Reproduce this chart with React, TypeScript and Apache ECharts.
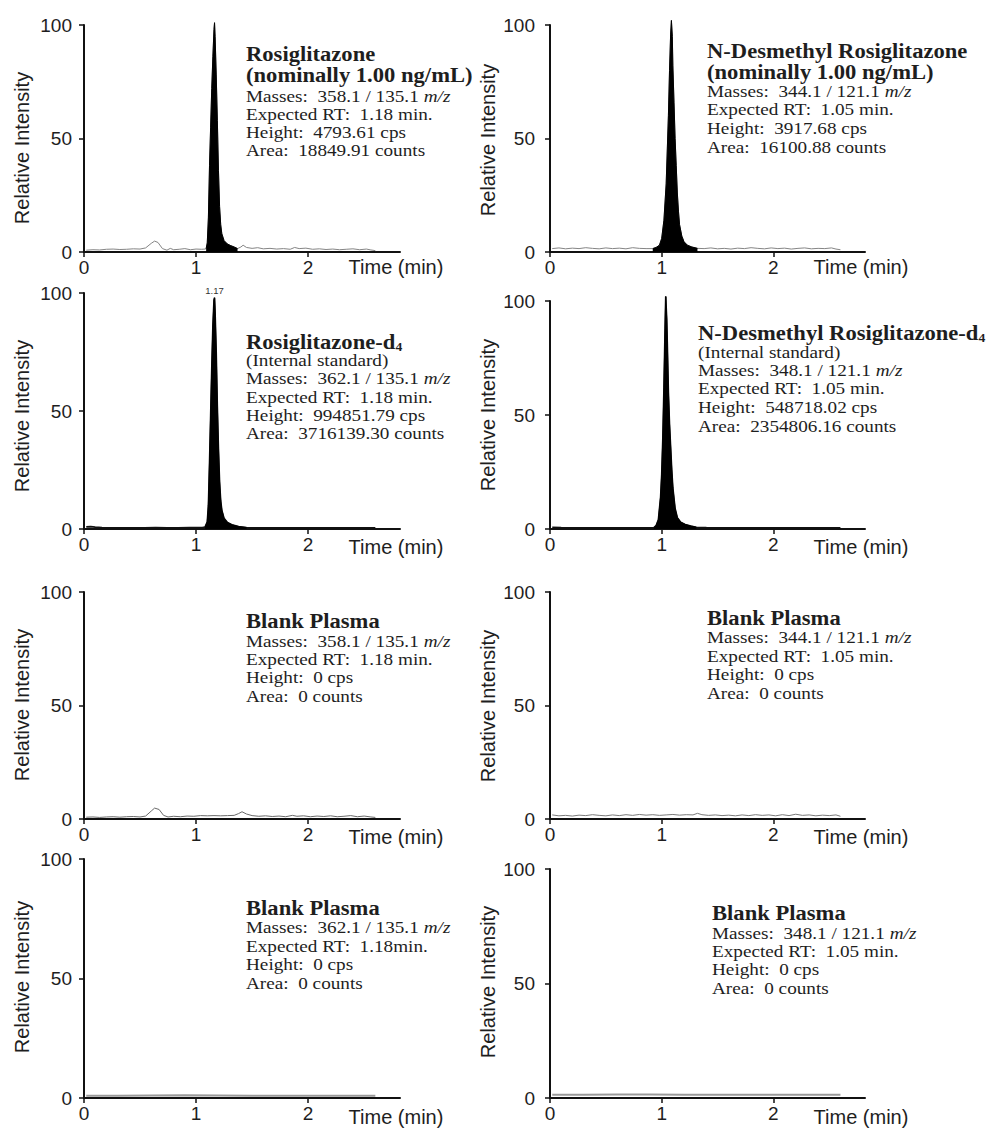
import React, { useEffect, useRef } from 'react';
import * as echarts from 'echarts';

type Pt = [number, number];

// ---------- DATA (time in min, relative intensity %) ----------
const rosiTrace: Pt[] = [
  [0.02, 0.8], [0.08, 1.0], [0.14, 0.9], [0.20, 1.2], [0.26, 1.3], [0.32, 1.1], [0.38, 1.2], [0.44, 1.4],
  [0.50, 1.3], [0.55, 1.8], [0.60, 3.8], [0.63, 4.8], [0.66, 4.2], [0.70, 1.5], [0.74, 0.8], [0.77, 1.6],
  [0.80, 1.0], [0.85, 1.2], [0.90, 1.5], [0.95, 1.0], [1.00, 1.3], [1.05, 1.2], [1.08, 1.3],
  [1.09, 1.5], [1.10, 4], [1.11, 15], [1.12, 38], [1.13, 55], [1.14, 72], [1.15, 86], [1.16, 98],
  [1.165, 101], [1.17, 95], [1.18, 78], [1.19, 58], [1.20, 36], [1.21, 20], [1.22, 12], [1.23, 8],
  [1.25, 5], [1.28, 3.5], [1.31, 2.8], [1.34, 2.2], [1.37, 1.5],
  [1.40, 2.2], [1.42, 3.0], [1.45, 2.0], [1.50, 1.6], [1.55, 1.9], [1.60, 1.4], [1.66, 1.6], [1.72, 1.3],
  [1.78, 1.5], [1.84, 1.2], [1.88, 2.0], [1.92, 1.5], [1.98, 1.7], [2.04, 1.2], [2.10, 1.4], [2.16, 1.1],
  [2.22, 1.3], [2.28, 1.0], [2.34, 1.2], [2.40, 1.4], [2.46, 1.0], [2.52, 1.3], [2.56, 0.9], [2.60, 0.6],
];
const rosiPeakWindow: Pt = [1.09, 1.37];

const desTrace: Pt[] = [
  [0.02, 1.5], [0.08, 1.8], [0.14, 1.4], [0.20, 1.7], [0.26, 1.5], [0.32, 1.9], [0.38, 1.6], [0.44, 1.4],
  [0.50, 1.8], [0.56, 1.5], [0.62, 1.7], [0.68, 1.4], [0.74, 1.9], [0.80, 1.6], [0.86, 1.5], [0.92, 1.5],
  [0.95, 2.0], [0.98, 3], [1.00, 6], [1.02, 14], [1.04, 30], [1.06, 60], [1.07, 80], [1.08, 96],
  [1.087, 102], [1.095, 95], [1.10, 82], [1.11, 66], [1.12, 50], [1.13, 38], [1.14, 26], [1.15, 18],
  [1.16, 12], [1.18, 7], [1.20, 4.5], [1.23, 3], [1.27, 2.2], [1.32, 1.6], [1.38, 1.5], [1.44, 1.8],
  [1.50, 1.4], [1.56, 1.6], [1.62, 1.3], [1.68, 1.7], [1.74, 1.5], [1.80, 1.9], [1.86, 1.6], [1.92, 1.4],
  [1.98, 1.8], [2.04, 1.5], [2.10, 1.7], [2.16, 1.3], [2.22, 1.6], [2.28, 1.8], [2.34, 1.4], [2.40, 1.6],
  [2.46, 1.5], [2.52, 1.8], [2.56, 1.3], [2.60, 1.0],
];
const desPeakWindow: Pt = [0.92, 1.32];

const rosiD4Trace: Pt[] = [
  [0.02, 0.9], [0.06, 1.0], [0.10, 0.8], [0.16, 0.6], [0.24, 0.5], [0.34, 0.5], [0.44, 0.5], [0.54, 0.5],
  [0.64, 0.6], [0.74, 0.5], [0.84, 0.5], [0.94, 0.6], [1.02, 0.6], [1.06, 0.7], [1.08, 0.8], [1.10, 3],
  [1.11, 10], [1.12, 28], [1.13, 48], [1.14, 68], [1.15, 86], [1.16, 97], [1.165, 98], [1.17, 92],
  [1.18, 75], [1.19, 52], [1.20, 34], [1.21, 20], [1.22, 12], [1.23, 8], [1.25, 4.5], [1.28, 2.8],
  [1.32, 1.8], [1.38, 1.0], [1.45, 0.6], [1.55, 0.5], [1.70, 0.5], [1.85, 0.5], [2.00, 0.5], [2.15, 0.5],
  [2.30, 0.5], [2.45, 0.5], [2.60, 0.5],
];
const rosiD4PeakWindow: Pt = [1.08, 1.45];
const rosiD4Apex = { time: 1.165, value: 98, label: '1.17' };

const desD4Trace: Pt[] = [
  [0.02, 0.7], [0.10, 0.6], [0.20, 0.5], [0.30, 0.5], [0.40, 0.5], [0.50, 0.5], [0.60, 0.5], [0.70, 0.5],
  [0.80, 0.5], [0.88, 0.5], [0.93, 0.6], [0.95, 1.5], [0.97, 4], [0.99, 14], [1.00, 24], [1.01, 40],
  [1.02, 62], [1.03, 88], [1.036, 102], [1.045, 92], [1.05, 82], [1.06, 60], [1.07, 46], [1.08, 36],
  [1.09, 26], [1.10, 18], [1.12, 9], [1.14, 5], [1.17, 3], [1.21, 2], [1.26, 1.3], [1.31, 0.8],
  [1.40, 0.6], [1.55, 0.5], [1.70, 0.5], [1.85, 0.5], [2.00, 0.5], [2.15, 0.5], [2.30, 0.5], [2.45, 0.5],
  [2.60, 0.5],
];
const desD4PeakWindow: Pt = [0.93, 1.31];
const desD4Apex = { time: 1.036, value: 102, label: '1.05' };

const blankRosiTrace: Pt[] = [
  [0.02, 0.8], [0.08, 0.9], [0.14, 0.7], [0.20, 0.9], [0.26, 1.0], [0.32, 0.8], [0.38, 1.0], [0.44, 1.1],
  [0.50, 0.9], [0.55, 1.3], [0.60, 3.5], [0.63, 4.8], [0.67, 4.2], [0.71, 1.6], [0.75, 0.9], [0.80, 1.2],
  [0.86, 1.0], [0.92, 1.3], [0.98, 1.2], [1.04, 1.5], [1.10, 1.4], [1.16, 1.5], [1.22, 1.4], [1.28, 1.5],
  [1.34, 1.6], [1.38, 2.4], [1.41, 3.2], [1.45, 2.2], [1.50, 1.5], [1.56, 1.2], [1.62, 1.4], [1.68, 1.1],
  [1.74, 1.3], [1.80, 1.0], [1.86, 1.6], [1.90, 1.2], [1.96, 1.4], [2.02, 1.0], [2.08, 1.3], [2.14, 1.1],
  [2.20, 1.4], [2.26, 1.0], [2.32, 1.2], [2.38, 1.5], [2.44, 1.0], [2.50, 1.3], [2.56, 0.9], [2.60, 0.7],
];

const blankDesTrace: Pt[] = [
  [0.02, 1.8], [0.08, 1.4], [0.14, 1.6], [0.20, 1.3], [0.26, 1.7], [0.32, 1.5], [0.38, 1.9], [0.44, 1.6],
  [0.50, 1.4], [0.56, 1.8], [0.62, 1.5], [0.68, 1.9], [0.74, 1.6], [0.80, 2.0], [0.86, 1.7], [0.92, 1.9],
  [0.98, 1.6], [1.04, 1.8], [1.10, 2.0], [1.16, 1.7], [1.22, 1.9], [1.28, 1.8], [1.32, 2.5], [1.36, 1.9],
  [1.42, 1.6], [1.48, 1.8], [1.54, 1.5], [1.60, 1.7], [1.66, 1.4], [1.72, 1.8], [1.78, 1.5], [1.84, 1.9],
  [1.90, 1.6], [1.96, 1.8], [2.02, 1.4], [2.08, 1.9], [2.14, 1.5], [2.20, 2.1], [2.26, 1.6], [2.32, 1.8],
  [2.38, 1.4], [2.44, 1.7], [2.50, 1.5], [2.56, 1.8], [2.60, 1.2],
];

const blankRosiD4Trace: Pt[] = [
  [0.02, 0.9], [0.30, 0.9], [0.60, 1.0], [0.90, 1.1], [1.20, 1.0], [1.50, 0.9], [1.80, 0.9], [2.10, 0.9],
  [2.40, 0.9], [2.60, 0.9],
];

const blankDesD4Trace: Pt[] = [
  [0.02, 1.4], [0.30, 1.4], [0.60, 1.5], [0.90, 1.5], [1.20, 1.4], [1.50, 1.4], [1.80, 1.4], [2.10, 1.4],
  [2.40, 1.4], [2.60, 1.4],
];

const xTicks = [0, 1, 2];
const yTicks = { min: 0, max: 100, interval: 50 };
const X_MAX = 2.82;

// ---------- TEXT ----------
type Line = { t: string; b?: boolean };
const notes: Line[][] = [
  [
    { t: 'Rosiglitazone', b: true }, { t: '(nominally 1.00 ng/mL)', b: true },
    { t: 'Masses:  358.1 / 135.1 {i|m/z}' }, { t: 'Expected RT:  1.18 min.' },
    { t: 'Height:  4793.61 cps' }, { t: 'Area:  18849.91 counts' },
  ],
  [
    { t: 'N-Desmethyl Rosiglitazone', b: true }, { t: '(nominally 1.00 ng/mL)', b: true },
    { t: 'Masses:  344.1 / 121.1 {i|m/z}' }, { t: 'Expected RT:  1.05 min.' },
    { t: 'Height:  3917.68 cps' }, { t: 'Area:  16100.88 counts' },
  ],
  [
    { t: 'Rosiglitazone-d{s|4}', b: true }, { t: '(Internal standard)' },
    { t: 'Masses:  362.1 / 135.1 {i|m/z}' }, { t: 'Expected RT:  1.18 min.' },
    { t: 'Height:  994851.79 cps' }, { t: 'Area:  3716139.30 counts' },
  ],
  [
    { t: 'N-Desmethyl Rosiglitazone-d{s|4}', b: true }, { t: '(Internal standard)' },
    { t: 'Masses:  348.1 / 121.1 {i|m/z}' }, { t: 'Expected RT:  1.05 min.' },
    { t: 'Height:  548718.02 cps' }, { t: 'Area:  2354806.16 counts' },
  ],
  [
    { t: 'Blank Plasma', b: true }, { t: 'Masses:  358.1 / 135.1 {i|m/z}' },
    { t: 'Expected RT:  1.18 min.' }, { t: 'Height:  0 cps' }, { t: 'Area:  0 counts' },
  ],
  [
    { t: 'Blank Plasma', b: true }, { t: 'Masses:  344.1 / 121.1 {i|m/z}' },
    { t: 'Expected RT:  1.05 min.' }, { t: 'Height:  0 cps' }, { t: 'Area:  0 counts' },
  ],
  [
    { t: 'Blank Plasma', b: true }, { t: 'Masses:  362.1 / 135.1 {i|m/z}' },
    { t: 'Expected RT:  1.18min.' }, { t: 'Height:  0 cps' }, { t: 'Area:  0 counts' },
  ],
  [
    { t: 'Blank Plasma', b: true }, { t: 'Masses:  348.1 / 121.1 {i|m/z}' },
    { t: 'Expected RT:  1.05 min.' }, { t: 'Height:  0 cps' }, { t: 'Area:  0 counts' },
  ],
];

// ---------- LAYOUT ----------
const gridBoxes = [
  [84, 25, 316, 227], [550, 25, 315, 227],
  [84, 293, 316, 236], [550, 301, 315, 228],
  [84, 592, 316, 227], [550, 592, 315, 227],
  [84, 859, 316, 239], [550, 869, 315, 229],
];
const noteX = [246, 707, 246, 698, 246, 707, 246, 712];
const noteYs = [
  [54, 75, 96, 114, 132, 150.5],
  [51, 72, 91, 109.5, 128, 147],
  [342, 360, 378, 397, 415, 433],
  [333, 352, 370, 388, 407, 426],
  [621, 641, 659, 677, 696],
  [618, 637, 656, 674, 693],
  [908, 927, 946, 964, 983],
  [913, 933, 951, 969, 988],
];
const yNamePos = [[22, 148], [488, 140], [22, 416], [488, 415], [22, 705], [488, 706], [22, 977], [488, 982]];
const timeLabelY = [267, 267, 547, 547, 837, 837, 1117, 1117];

const SANS = '"Liberation Sans", Arial, Helvetica, sans-serif';
const SERIF = '"Liberation Serif", "Times New Roman", serif';
const TXT = '#1e1e1e';

const panels = [
  { trace: rosiTrace, win: rosiPeakWindow, color: '#858585', width: 1, apex: null as any },
  { trace: desTrace, win: desPeakWindow, color: '#858585', width: 1, apex: null as any },
  { trace: rosiD4Trace, win: rosiD4PeakWindow, color: '#111', width: 1.6, apex: rosiD4Apex },
  { trace: desD4Trace, win: desD4PeakWindow, color: '#111', width: 1.6, apex: desD4Apex },
  { trace: blankRosiTrace, win: null as any, color: '#6a6a6a', width: 1, apex: null as any },
  { trace: blankDesTrace, win: null as any, color: '#7a7a7a', width: 1, apex: null as any },
  { trace: blankRosiD4Trace, win: null as any, color: '#9a9a9a', width: 2, apex: null as any },
  { trace: blankDesD4Trace, win: null as any, color: '#9a9a9a', width: 2, apex: null as any },
];

function buildOption() {
  const grid: any[] = [];
  const xAxis: any[] = [];
  const yAxis: any[] = [];
  const series: any[] = [];
  const graphic: any[] = [];

  panels.forEach((p, i) => {
    const [l, t, w, h] = gridBoxes[i];
    grid.push({ left: l, top: t, width: w, height: h, containLabel: false });
    xAxis.push({
      gridIndex: i, type: 'value', min: 0, max: X_MAX,
      axisLine: { onZero: true, lineStyle: { color: '#111', width: 2 } },
      axisTick: { show: true, customValues: xTicks, length: 5, lineStyle: { color: '#111', width: 1.5 } },
      axisLabel: { customValues: xTicks, fontSize: 19, color: TXT, fontFamily: SANS, margin: 6 },
      splitLine: { show: false },
    });
    yAxis.push({
      gridIndex: i, type: 'value', min: yTicks.min, max: yTicks.max, interval: yTicks.interval,
      axisLine: { show: true, lineStyle: { color: '#111', width: 2 } },
      axisTick: { show: true, length: 5, lineStyle: { color: '#111', width: 1.5 } },
      axisLabel: { fontSize: 19, color: TXT, fontFamily: SANS, margin: i % 2 === 0 ? 12 : 15 },
      splitLine: { show: false },
    });
    series.push({
      type: 'line', xAxisIndex: i, yAxisIndex: i, data: p.trace, showSymbol: false, symbol: 'none',
      lineStyle: { color: p.color, width: p.width }, itemStyle: { color: p.color }, z: 2, clip: false, silent: true,
    });
    if (p.win) {
      const peak = p.trace.filter((d) => d[0] >= p.win[0] && d[0] <= p.win[1]);
      const s: any = {
        type: 'line', xAxisIndex: i, yAxisIndex: i, data: peak, showSymbol: false, symbol: 'none',
        lineStyle: { color: '#000', width: 1 }, itemStyle: { color: '#000' },
        areaStyle: { color: '#000', opacity: 1 }, z: 3, clip: false, silent: true,
      };
      if (p.apex) {
        s.markPoint = {
          symbol: 'circle', symbolSize: 1, itemStyle: { color: '#000', opacity: 0 }, silent: true,
          label: {
            show: true, position: 'top', distance: 2, formatter: p.apex.label,
            fontSize: 9.5, color: '#333333', fontFamily: SANS, opacity: 1,
          },
          data: [{ coord: [p.apex.time, p.apex.value] }],
        };
      }
      series.push(s);
    }

    // y axis title
    graphic.push({
      type: 'text', x: yNamePos[i][0], y: yNamePos[i][1], rotation: Math.PI / 2,
      style: { text: 'Relative Intensity', fontSize: 20, fontFamily: SANS, fill: TXT, align: 'center', verticalAlign: 'middle' },
    });
    // x axis title
    graphic.push({
      type: 'text', x: l + w - 4, y: timeLabelY[i],
      style: { text: 'Time (min)', fontSize: 20, fontFamily: SANS, fill: TXT, align: 'center', verticalAlign: 'middle' },
    });
    // annotation
    notes[i].forEach((ln, k) => {
      const fs = ln.b ? 20 : 17;
      const fw = ln.b ? 'bold' : 'normal';
      graphic.push({
        type: 'text', x: noteX[i], y: noteYs[i][k], scaleX: 1.13,
        style: {
          text: ln.t, fontSize: fs, fontWeight: fw, fontFamily: SERIF, fill: TXT,
          align: 'left', verticalAlign: 'middle',
          rich: {
            i: { fontSize: fs, fontStyle: 'italic', fontWeight: fw, fontFamily: SERIF, fill: TXT },
            s: { fontSize: 12, fontWeight: 'bold', fontFamily: SERIF, fill: TXT, padding: [10, 0, 0, 0] },
          },
        },
      });
    });
  });

  return { animation: false, backgroundColor: '#ffffff', grid, xAxis, yAxis, series, graphic };
}

export default function App() {
  const ref = useRef<HTMLDivElement>(null);
  useEffect(() => {
    if (!ref.current) return;
    const chart = echarts.init(ref.current, null, { renderer: 'svg' });
    chart.setOption(buildOption() as any);
    return () => chart.dispose();
  }, []);
  return <div ref={ref} style={{ position: 'absolute', left: 0, top: 0, width: 986, height: 1128 }} />;
}
